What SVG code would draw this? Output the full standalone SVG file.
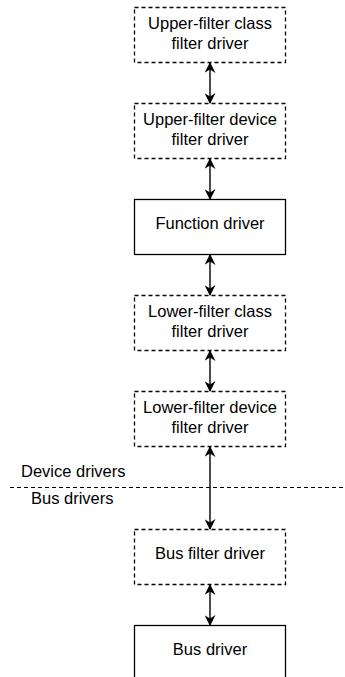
<svg xmlns="http://www.w3.org/2000/svg" width="345" height="677" viewBox="0 0 345 677">
  <style>
    .box { fill: #ffffff; stroke: #000000; stroke-width: 1.3; }
    .dash { stroke-dasharray: 4 3; }
    .lbl { font-family: "Liberation Sans", Arial, sans-serif; font-size: 16.5px; fill: #000000; text-anchor: middle; }
    .side { font-family: "Liberation Sans", Arial, sans-serif; font-size: 16.5px; fill: #000000; }
    .conn { stroke: #000000; stroke-width: 1.4; fill: none; marker-start: url(#arr); marker-end: url(#arr); }
  </style>
  <defs>
    <marker id="arr" viewBox="0 0 10 10" refX="9" refY="5" markerWidth="12" markerHeight="11" markerUnits="userSpaceOnUse" orient="auto-start-reverse">
      <path d="M0,0 L10,5 L0,10 L3,5 Z" fill="#000000"/>
    </marker>
  </defs>
  <rect width="345" height="677" fill="#ffffff"/>

  <g id="n-upper-class">
    <rect class="box dash" x="134.5" y="7.5" width="151" height="55"/>
    <text class="lbl" x="210" y="29">Upper-filter class</text>
    <text class="lbl" x="210" y="49">filter driver</text>
  </g>
  <g id="n-upper-device">
    <rect class="box dash" x="134.5" y="103.5" width="151" height="55"/>
    <text class="lbl" x="210" y="125">Upper-filter device</text>
    <text class="lbl" x="210" y="145">filter driver</text>
  </g>
  <g id="n-function">
    <rect class="box" x="134.5" y="199.5" width="151" height="55"/>
    <text class="lbl" x="210" y="229">Function driver</text>
  </g>
  <g id="n-lower-class">
    <rect class="box dash" x="134.5" y="295.5" width="151" height="55"/>
    <text class="lbl" x="210" y="317">Lower-filter class</text>
    <text class="lbl" x="210" y="337">filter driver</text>
  </g>
  <g id="n-lower-device">
    <rect class="box dash" x="134.5" y="391.5" width="151" height="55"/>
    <text class="lbl" x="210" y="413">Lower-filter device</text>
    <text class="lbl" x="210" y="433">filter driver</text>
  </g>
  <g id="n-bus-filter">
    <rect class="box dash" x="134.5" y="529.5" width="151" height="55"/>
    <text class="lbl" x="210" y="559">Bus filter driver</text>
  </g>
  <g id="n-bus">
    <rect class="box" x="134.5" y="625.5" width="151" height="60"/>
    <text class="lbl" x="210" y="655">Bus driver</text>
  </g>

  <g id="boundary">
    <line x1="10" y1="487.5" x2="345" y2="487.5" stroke="#000000" stroke-width="1.2" stroke-dasharray="4 3"/>
    <text class="side" x="21" y="477">Device drivers</text>
    <text class="side" x="31" y="504">Bus drivers</text>
  </g>

  <g id="connectors">
    <line class="conn" x1="210" y1="63" x2="210" y2="103"/>
    <line class="conn" x1="210" y1="159" x2="210" y2="199"/>
    <line class="conn" x1="210" y1="255" x2="210" y2="295"/>
    <line class="conn" x1="210" y1="351" x2="210" y2="391"/>
    <line class="conn" x1="210" y1="447" x2="210" y2="529"/>
    <line class="conn" x1="210" y1="585" x2="210" y2="625"/>
  </g>
</svg>
